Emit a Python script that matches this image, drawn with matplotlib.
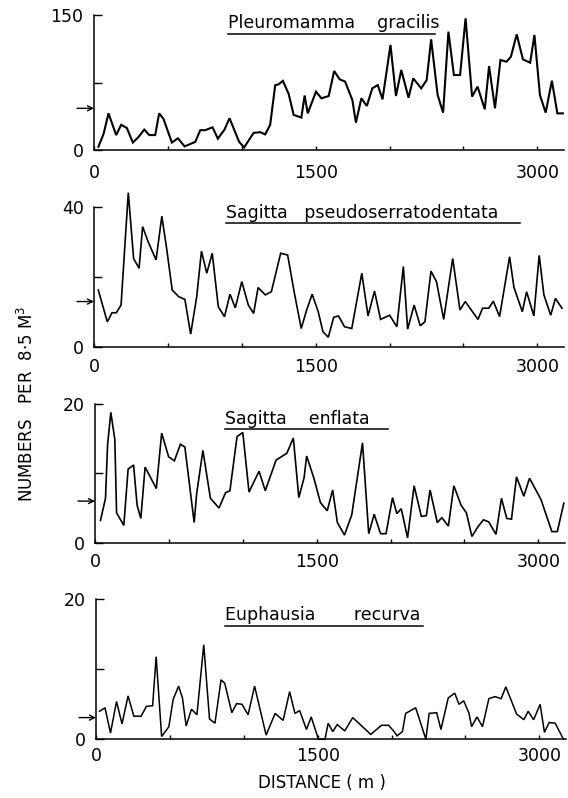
import matplotlib
matplotlib.use("Agg")
import matplotlib.pyplot as plt
from matplotlib.lines import Line2D

plt.rcParams['font.family'] = ['DejaVu Sans']

# ---------------- data ----------------
titles = ["Pleuromamma    gracilis",
          "Sagitta   pseudoserratodentata",
          "Sagitta    enflata",
          "Euphausia       recurva"]

y_max = [150, 40, 20, 20]
means = [46.3, 12.9, 6.0, 3.1]

d1 = [30, 65, 98, 150, 184, 222, 263, 301, 340, 374, 414, 441, 470, 527, 568, 613, 685, 719,
      752, 802, 838, 883, 917, 982, 1016, 1080, 1125, 1158, 1192, 1226, 1249, 1278, 1317,
      1351, 1403, 1425,
      1446, 1502, 1539, 1588, 1625, 1662, 1699, 1748, 1772, 1809, 1846, 1883, 1920, 1952,
      2006, 2043, 2079, 2128, 2160, 2214, 2251, 2281, 2325, 2362, 2398, 2435, 2477, 2514,
      2558, 2595, 2644, 2673, 2713, 2750, 2791, 2821, 2860, 2902, 2951, 2980, 3017, 3056,
      3098, 3135, 3172]
v1 = [3.6, 18, 40.7, 16.6, 28, 24.5, 8.3, 14.4, 22.7, 16.6, 16.6, 40.7, 34.6, 8.3, 13, 4, 9,
      22, 22, 25.2, 12.6, 22.7, 35.3, 9, 2.9, 19, 19.8, 17.3, 28, 72, 73, 76.8, 62.4, 39, 36,
      60.6,
      40.7, 64.8, 57.4, 60, 87.8, 78.5, 76, 55.6, 30.4, 57.4, 48.9, 68.5, 72.2, 56.3,
      116.7, 60, 88.9, 58.1, 79.6, 68.5, 77.8, 123, 61.1, 41.5, 131.5, 83.3, 83.3, 146.3,
      59.3, 70.4, 45.2, 93.3, 46.3, 100, 98.1, 103.7, 128.5, 100.7, 97, 127.8, 61.1, 41.5,
      77, 40.7, 40.7]

d2 = [29, 90, 122, 151, 183, 232, 268, 305, 329, 366, 420, 459, 493, 529, 573, 615, 654, 695,
      727, 763, 800, 841, 883, 920, 956, 1000, 1044, 1080, 1110, 1159, 1200, 1220, 1263, 1310,
      1354, 1402, 1439, 1476, 1517, 1549, 1585, 1622, 1654, 1695, 1744, 1812, 1854, 1898,
      1939, 2000, 2049, 2093, 2122, 2166, 2207, 2239, 2280, 2317, 2366, 2427, 2476, 2512,
      2598, 2629, 2671, 2702, 2744, 2812, 2841, 2898, 2927, 2976, 3012, 3044, 3090, 3122, 3166]
v2 = [16.2, 7.1, 9.7, 9.7, 11.9, 44, 25.2, 22.4, 34.3, 30, 24.8, 37.3, 27.6, 16.2, 14.3, 13.5,
      3.6, 14.3, 27.3, 21, 26.7, 11.4, 8.6, 15, 11.1, 18.6, 11.9, 9.5, 16.9, 14.8, 15.7, 19.2,
      26.7, 26.2, 15.7, 5.2, 10.5, 15, 10, 4.3, 2.7, 8.4, 8.8, 5.7, 5.2, 21, 8.8, 15.9, 7.8, 9,
      5.7, 22.9, 5, 11.9, 6, 7.1, 21.6, 18.6, 7.8, 25.2, 10.5, 12.9, 7.8, 11, 11, 13, 8.6, 25.7,
      17, 10, 15.7, 8.8, 26.1, 14.8, 9, 13.8, 11]

d3 = [37, 71, 85, 107, 134, 146, 195, 224, 261, 285, 310, 339, 415, 451, 498, 537, 578, 608,
      671, 688, 730, 781, 839, 883, 913, 961, 1000, 1042, 1110, 1152, 1225, 1261, 1298, 1342,
      1379, 1415, 1432, 1481, 1525, 1571, 1608, 1640, 1688, 1737, 1810, 1852, 1889, 1932,
      1969, 2013, 2042, 2072, 2115, 2159, 2208, 2242, 2267, 2316, 2347, 2391, 2428, 2477,
      2513, 2550, 2591, 2628, 2664, 2713, 2750, 2786, 2818, 2852, 2901, 2940, 3018, 3091,
      3128, 3172]
v3 = [3.2, 6.4, 14.1, 18.8, 14.9, 4.3, 2.5, 10.6, 11.2, 5.4, 3.5, 10.9, 7.8, 15.8, 12.4, 11.8,
      14.2, 13.8, 2.9, 7.1, 13.3, 6.4, 5, 7.2, 7.5, 15.3, 15.9, 7.3, 10.3, 7.5, 11.9, 12.4,
      12.9, 15.1, 6.5, 9.4, 12.5, 9.3, 5.8, 4.6, 7.6, 2.9, 1.1, 4, 14.4, 1.3, 4.1, 1.3, 1.3,
      6.5, 4.2, 4.9, 0.7, 8.2, 3.8, 3.9, 7.6, 2.9, 3.6, 2.4, 8.2, 5.4, 4.3, 0.9, 2.3, 3.3, 3,
      1.2, 6.4, 3.5, 3.4, 9.5, 6.7, 9.3, 6.2, 1.6, 1.6, 5.7]

d4 = [24, 61, 98, 139, 176, 217, 256, 305, 341, 383, 407, 444, 493, 522, 559, 585, 610, 646,
      683, 729, 768, 805, 846, 871, 919, 951, 988, 1029, 1073, 1151, 1212, 1266, 1310, 1346,
      1378, 1424, 1456, 1505, 1549, 1571, 1602, 1632, 1683, 1737, 1859, 1932, 1980, 2017,
      2037, 2073, 2095, 2163, 2232, 2254, 2305, 2334, 2383, 2427, 2456, 2488, 2524, 2541,
      2578, 2615, 2658, 2700, 2741, 2773, 2846, 2895, 2924, 2961, 3005, 3034, 3066, 3107, 3163]
v4 = [4.0, 4.5, 0.9, 5.4, 2.2, 6.2, 3.3, 3.3, 4.7, 4.8, 11.8, 0.4, 1.8, 5.7, 7.6, 5.9, 1.9,
      4.3, 3.5, 13.5, 2.9, 2.3, 8.5, 8, 3.8, 5.1, 5, 3.5, 7.6, 0.6, 3.7, 2.7, 6.8, 3.7, 4.1,
      1.4, 3.2, 0, 0, 2.3, 1.1, 2.1, 1.2, 3.1, 0.7, 2, 2, 1.1, 0.5, 1.1, 3.7, 4.5, 0, 3.7,
      3.8, 1.4, 5.9, 6.6, 5, 5.5, 3.7, 1.8, 3.2, 1.8, 5.8, 6.1, 5.8, 7.5, 3.6, 2.8, 4, 2.8,
      5, 1, 2.4, 2.3, 0]

distances = [d1, d2, d3, d4]
values = [v1, v2, v3, v4]

x_ticks = [0, 500, 1000, 1500, 2000, 2500, 3000]
x_ticklabels = ["0", "", "", "1500", "", "", "3000"]
x_max = 3180

# ---------------- layout (pixels) ----------------
W, H = 568, 798
fig = plt.figure(figsize=(W / 100, H / 100), dpi=100)

# (left, right, top, bottom) in pixel coordinates
boxes = [(94, 564, 15, 150),
         (94, 564, 206.7, 346.7),
         (95, 565, 404, 542.7),
         (96, 566, 599.3, 739.3)]
xpads = [10.0, 8.0, 7.5, 5.3]
line_w = [1.5, 1.2, 1.2, 1.1]
# title: (left x, baseline y, underline y, underline x end)
title_pos = [(227.5, 28.5, 33.5, 434.8),
             (226.4, 218.0, 223.3, 520.0),
             (224.6, 423.5, 429.0, 387.7),
             (224.6, 620.5, 626.0, 423.0)]

FS_TICK = 12.5
FS_TITLE = 12.5

for i in range(4):
    l, r, t, b = boxes[i]
    ax = fig.add_axes([l / W, 1 - b / H, (r - l) / W, (b - t) / H])
    ax.plot(distances[i], values[i], color='black', lw=line_w[i], clip_on=False,
            solid_joinstyle='miter')
    ax.set_xlim(0, x_max)
    ax.set_ylim(0, y_max[i])
    for s in ['top', 'right']:
        ax.spines[s].set_visible(False)
    for s in ['left', 'bottom']:
        ax.spines[s].set_linewidth(1.1)
    ax.set_xticks(x_ticks)
    ax.set_xticklabels(x_ticklabels)
    ax.set_yticks([0, y_max[i] / 2, y_max[i]])
    ax.set_yticklabels(["0", "", str(y_max[i])])
    ax.tick_params(axis='x', direction='in', length=3.2, width=1.0, pad=xpads[i],
                   labelsize=FS_TICK)
    ax.tick_params(axis='y', direction='in', length=5.8, width=1.0, pad=7.5,
                   labelsize=FS_TICK)
    ax.patch.set_alpha(0)
    # mean arrow
    ax.annotate('', xy=(0, means[i]), xycoords='data',
                xytext=(-17, 0), textcoords='offset pixels',
                arrowprops=dict(arrowstyle='->', color='black', lw=1.0,
                                shrinkA=0, shrinkB=0, mutation_scale=9),
                annotation_clip=False)

    tx, ty, uy, ux1 = title_pos[i]
    fig.text(tx / W, 1 - ty / H, titles[i], ha='left', va='baseline', fontsize=FS_TITLE)
    fig.add_artist(Line2D([tx / W, ux1 / W], [1 - uy / H, 1 - uy / H],
                          transform=fig.transFigure, color='black', lw=1.1))

fig.text(26.7 / W, 1 - 403.5 / H, 'NUMBERS   PER  8·5 M$^3$', rotation=90,
         ha='center', va='center', fontsize=12)
fig.text(322 / W, 1 - 783 / H, 'DISTANCE ( m )', ha='center', va='center', fontsize=12)

fig.savefig('out.png', dpi=100, facecolor='white')
